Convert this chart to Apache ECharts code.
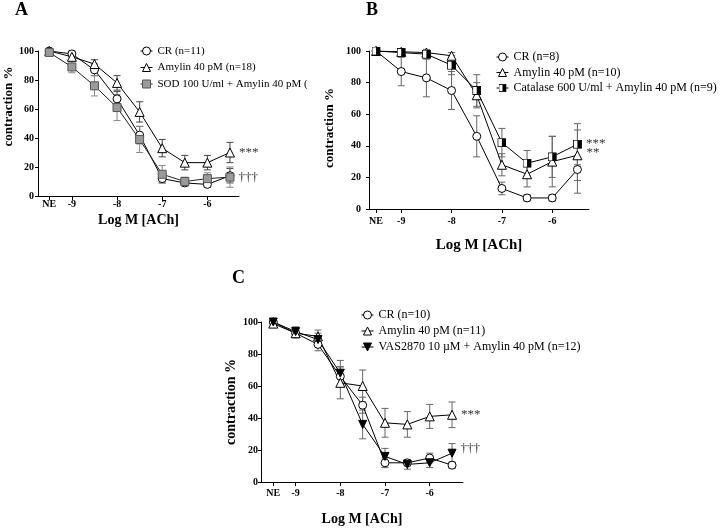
<!DOCTYPE html>
<html>
<head>
<meta charset="utf-8">
<script src="https://cdn.jsdelivr.net/npm/echarts@6/dist/echarts.min.js"></script>
<style>html,body{margin:0;padding:0;background:#fff}#c{width:720px;height:528px}</style>
</head>
<body>
<div id="c"></div>
<script>
// ---- shared axis data ----
const xValues = [-9.5, -9, -8.5, -8, -7.5, -7, -6.5, -6, -5.5];
const xTickValues = [-9.5, -9, -8, -7, -6];
const xTickLabels = ['NE', '-9', '-8', '-7', '-6'];
const panelTitles = ['A', 'B', 'C'];
const xAxisName = 'Log M [ACh]';
const yAxisName = 'contraction %';

// ---- Panel A ----
const aNames = ['CR (n=11)', 'Amylin 40 pM (n=18)', 'SOD 100 U/ml + Amylin 40 pM (n'];
const aCR = [100, 98, 87, 67, 42, 12, 9, 8, 14];
const aCRErr = [0, 2, 4, 5, 6, 3, 2, 2, 5];
const aAmy = [100, 96, 91, 78, 58, 33, 23, 23, 30];
const aAmyErr = [0, 2, 3, 5, 7, 6, 5, 5, 7];
const aSOD = [99, 89, 76, 61, 39, 15, 10, 12, 13];
const aSODErr = [0, 4, 7, 9, 9, 6, 3, 4, 7];
const aMarks = ['', '***', '\u2020\u2020\u2020'];

// ---- Panel B ----
const bNames = ['CR (n=8)', 'Amylin 40 pM (n=10)', 'Catalase 600 U/ml + Amylin 40 pM (n=9)'];
const bCR = [100, 87, 83, 75, 46, 13, 7, 7, 25];
const bCRErr = [0, 9, 12, 12, 13, 4, 2, 2, 15];
const bAmy = [100, 99.5, 99, 97, 72, 28, 22, 30, 34];
const bAmyErr = [0, 1, 1, 2, 8, 7, 8, 16, 16];
const bCat = [100, 99, 98, 91, 75, 42, 29, 33, 41];
const bCatErr = [0, 2, 3, 6, 10, 9, 8, 13, 13];
const bMarks = ['', '**', '***'];

// ---- Panel C ----
const cNames = ['CR (n=10)', 'Amylin 40 pM (n=11)', 'VAS2870 10 \u00b5M + Amylin 40 pM (n=12)'];
const cCR = [100, 93, 86, 66, 48, 12, 12, 15, 10.5];
const cCRErr = [0, 2, 4, 6, 5, 3, 2, 3, 2];
const cAmy = [99, 93, 91, 62, 60, 37, 36, 41, 42];
const cAmyErr = [0, 3, 4, 10, 10, 9, 8, 7.5, 8];
const cVAS = [100, 94, 89, 68, 36, 16, 11, 12, 18];
const cVASErr = [0, 3, 4, 8, 9, 5, 3, 3, 6];
const cMarks = ['', '***', '\u2020\u2020\u2020'];

const FONT = 'Liberation Serif';
const catSvg = "<svg xmlns='http://www.w3.org/2000/svg' width='20' height='20' viewBox='0 0 20 20'><rect x='1' y='1' width='18' height='18' fill='white' stroke='black' stroke-width='2'/><rect x='10' y='1' width='9' height='18' fill='black'/></svg>";
const catSymbol = 'image://data:image/svg+xml;utf8,' + encodeURIComponent(catSvg);

const grids = [
  {left: 38, top: 51, width: 201, height: 145},
  {left: 369, top: 51, width: 220, height: 158},
  {left: 261, top: 322, width: 202, height: 160}
];
const xRanges = [[-9.75, -5.3], [-9.64, -5.27], [-9.775, -5.255]];
const xLabelMargin = [3, 7, 6];
const yLabelMargin = [4, 8, 3];
const xNameGap = [17, 29, 30];
const yNameGap = [23, 33, 23];
const yNamePad = [[0, 0, 0, 34], [0, 0, 0, 4], [0, 0, 0, 0]];
const yNameSize = [13, 13, 14];
const xNameSize = [14, 15, 14];

function xAxis(i) {
  return {
    type: 'value', gridIndex: i, min: xRanges[i][0], max: xRanges[i][1],
    splitLine: {show: false},
    axisLine: {lineStyle: {color: '#000', width: 1}},
    axisTick: {show: true, length: 4, lineStyle: {color: '#000'}, customValues: xTickValues},
    axisLabel: {customValues: xTickValues, margin: xLabelMargin[i], color: '#000',
      fontFamily: FONT, fontWeight: 'bold', fontSize: 10,
      formatter: v => xTickLabels[xTickValues.indexOf(v)]},
    name: xAxisName, nameLocation: 'middle', nameGap: xNameGap[i],
    nameTextStyle: {fontFamily: FONT, fontWeight: 'bold', fontSize: xNameSize[i], color: '#000'}
  };
}
function yAxis(i) {
  return {
    type: 'value', gridIndex: i, min: 0, max: 100, interval: 20,
    splitLine: {show: false},
    axisLine: {show: true, lineStyle: {color: '#000', width: 1}},
    axisTick: {show: true, length: 3, lineStyle: {color: '#000'}},
    axisLabel: {margin: yLabelMargin[i], color: '#000', fontFamily: FONT, fontWeight: 'bold', fontSize: 10},
    name: yAxisName, nameLocation: 'middle', nameGap: yNameGap[i], nameRotate: 90,
    nameTextStyle: {fontFamily: FONT, fontWeight: 'bold', fontSize: yNameSize[i], color: '#000', padding: yNamePad[i]}
  };
}

function lineSeries(i, name, vals, sym, mark, markOffset) {
  const data = xValues.map((x, k) => {
    if (k === xValues.length - 1 && mark) {
      return {value: [x, vals[k]], label: {show: true, formatter: mark, position: 'right', distance: 4,
        offset: markOffset || [0, 0], fontFamily: FONT, fontSize: 13, color: '#333'}};
    }
    return [x, vals[k]];
  });
  return {
    type: 'line', name, xAxisIndex: i, yAxisIndex: i, data, z: 3,
    lineStyle: {color: sym.line || '#000', width: 1},
    animation: false,
    symbol: sym.symbol, symbolSize: sym.size, symbolRotate: sym.rotate || 0,
    itemStyle: {color: sym.fill, borderColor: sym.border, borderWidth: 1}
  };
}

function errSeries(i, name, vals, errs, color) {
  return {
    type: 'custom', name, xAxisIndex: i, yAxisIndex: i, z: 2, silent: true, animation: false,
    data: xValues.map((x, k) => [x, vals[k] - errs[k], vals[k] + errs[k], errs[k]]).filter(d => d[3] > 0),
    renderItem(params, api) {
      const x = api.value(0), lo = api.value(1), hi = api.value(2);
      const p1 = api.coord([x, hi]), p2 = api.coord([x, lo]);
      const w = 3.5;
      const st = {stroke: color, lineWidth: 1};
      return {type: 'group', children: [
        {type: 'line', shape: {x1: p1[0], y1: p1[1], x2: p2[0], y2: p2[1]}, style: st},
        {type: 'line', shape: {x1: p1[0] - w, y1: p1[1], x2: p1[0] + w, y2: p1[1]}, style: st},
        {type: 'line', shape: {x1: p2[0] - w, y1: p2[1], x2: p2[0] + w, y2: p2[1]}, style: st}
      ]};
    }
  };
}

const SYM = {
  circle: {symbol: 'circle', size: 8, fill: '#fff', border: '#000'},
  tri: {symbol: 'triangle', size: 9, fill: '#fff', border: '#000'},
  sod: {symbol: 'rect', size: 8, fill: '#9a9a9a', border: '#555', line: '#222'},
  cat: {symbol: catSymbol, size: 9, fill: '#000', border: '#000'},
  vas: {symbol: 'triangle', size: 8, rotate: 180, fill: '#000', border: '#000'}
};

const series = [
  errSeries(0, 'eA1', aCR, aCRErr, '#444'),
  errSeries(0, 'eA2', aAmy, aAmyErr, '#444'),
  errSeries(0, 'eA3', aSOD, aSODErr, '#888'),
  lineSeries(0, aNames[0], aCR, SYM.circle, aMarks[0]),
  lineSeries(0, aNames[1], aAmy, SYM.tri, aMarks[1]),
  lineSeries(0, aNames[2], aSOD, SYM.sod, aMarks[2]),

  errSeries(1, 'eB1', bCR, bCRErr, '#666'),
  errSeries(1, 'eB2', bAmy, bAmyErr, '#666'),
  errSeries(1, 'eB3', bCat, bCatErr, '#666'),
  lineSeries(1, bNames[0], bCR, SYM.circle, bMarks[0]),
  lineSeries(1, bNames[1], bAmy, SYM.tri, bMarks[1], [0, -3]),
  lineSeries(1, bNames[2], bCat, SYM.cat, bMarks[2], [0, -1]),

  errSeries(2, 'eC1', cCR, cCRErr, '#666'),
  errSeries(2, 'eC2', cAmy, cAmyErr, '#666'),
  errSeries(2, 'eC3', cVAS, cVASErr, '#666'),
  lineSeries(2, cNames[0], cCR, SYM.circle, cMarks[0]),
  lineSeries(2, cNames[1], cAmy, SYM.tri, cMarks[1]),
  lineSeries(2, cNames[2], cVAS, SYM.vas, cMarks[2], [0, -5])
];

function legend(names, left, top, gap, fontSize, width) {
  return {
    data: names, orient: 'vertical', left, top, itemGap: gap, itemWidth: 12, itemHeight: 10,
    selectedMode: false, padding: 0,
    itemStyle: {borderWidth: 1},
    lineStyle: {width: 1},
    textStyle: Object.assign({fontFamily: FONT, fontSize, color: '#000', lineHeight: 14},
      width ? {width, overflow: 'truncate', ellipsis: ''} : {})
  };
}

const titleStyle = {fontFamily: FONT, fontWeight: 'bold', fontSize: 18, color: '#000'};
const option = {
  backgroundColor: '#fff',
  animation: false,
  title: [
    {text: panelTitles[0], left: 15, top: 1, padding: 0, textStyle: titleStyle},
    {text: panelTitles[1], left: 366, top: 1, padding: 0, textStyle: titleStyle},
    {text: panelTitles[2], left: 232, top: 269, padding: 0, textStyle: titleStyle}
  ],
  legend: [
    legend(aNames, 140, 44, 2.5, 11, 153),
    legend(bNames, 496, 50, 1.5, 12),
    legend(cNames, 361, 308, 2, 12)
  ],
  grid: grids,
  xAxis: [xAxis(0), xAxis(1), xAxis(2)],
  yAxis: [yAxis(0), yAxis(1), yAxis(2)],
  series
};
const chart = echarts.init(document.getElementById('c'), null, {renderer: 'canvas'});
chart.setOption(option);
</script>
</body>
</html>
